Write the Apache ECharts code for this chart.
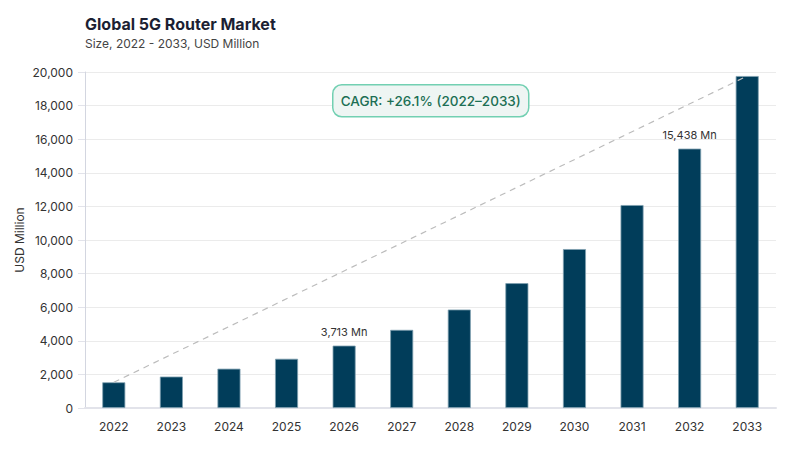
<!DOCTYPE html>
<html>
<head>
<meta charset="utf-8">
<script src="https://cdn.jsdelivr.net/npm/echarts@6/dist/echarts.min.js"></script>
<style>html,body{margin:0;padding:0;background:#fff}#c{width:800px;height:450px}</style>
</head>
<body>
<div id="c"></div>
<script>
var years = ['2022','2023','2024','2025','2026','2027','2028','2029','2030','2031','2032','2033'];
var marketSize = [1530, 1870, 2340, 2930, 3713, 4650, 5860, 7430, 9460, 12080, 15438, 19760];
var labeledYears = ['2026', '2032'];
var yTicks = [0, 2000, 4000, 6000, 8000, 10000, 12000, 14000, 16000, 18000, 20000];
var cagrText = 'CAGR: +26.1% (2022\u20132033)';
var trendData = marketSize.map(function (v, i) { return (i === 0 || i === marketSize.length - 1) ? v : null; });

var FONT = 'Inter';
var chart = echarts.init(document.getElementById('c'), null, { renderer: 'svg' });
chart.setOption({
  animation: false,
  textStyle: { fontFamily: FONT },
  title: {
    text: 'Global 5G Router Market',
    subtext: 'Size, 2022 - 2033, USD Million',
    left: 80, top: 11,
    itemGap: 5,
    textStyle: { fontFamily: FONT, fontSize: 16, fontWeight: 'bold', color: '#1c1f33' },
    subtextStyle: { fontFamily: FONT, fontSize: 12, color: '#444' }
  },
  grid: { left: 85, right: 24, top: 72, bottom: 42 },
  xAxis: {
    type: 'category',
    data: years,
    axisLine: { show: true, lineStyle: { color: '#e2e3ea', width: 2 } },
    axisTick: { show: false },
    axisLabel: { color: '#333', fontSize: 12, margin: 12, fontFamily: FONT }
  },
  yAxis: {
    type: 'value',
    min: 0, max: 20000, interval: 2000,
    name: 'USD Million',
    nameLocation: 'middle',
    nameGap: 60,
    nameMoveOverlap: false,
    nameTextStyle: { color: '#333', fontSize: 12, fontFamily: FONT },
    axisLine: { show: true, lineStyle: { color: '#d3d6e0' } },
    axisTick: { show: true, length: 7, lineStyle: { color: '#e2e3ea' } },
    axisLabel: {
      color: '#333', fontSize: 12, margin: 12, fontFamily: FONT,
      formatter: function (v) { return yTicks.indexOf(v) >= 0 ? v.toLocaleString('en-US') : ''; }
    },
    splitLine: { lineStyle: { color: '#ebebeb' } }
  },
  series: [
    {
      type: 'bar',
      data: marketSize.map(function (v, i) {
        var show = labeledYears.indexOf(years[i]) >= 0;
        return {
          value: v,
          label: {
            show: show, position: 'top', distance: 8,
            formatter: function (p) { return p.value.toLocaleString('en-US') + ' Mn'; },
            color: '#333', fontSize: 11, fontFamily: FONT
          }
        };
      }),
      barWidth: 23,
      itemStyle: { color: '#013d5a', borderColor: '#7f9fb0', borderWidth: 0.8 },
      z: 2
    },
    {
      type: 'line',
      data: trendData,
      connectNulls: true,
      symbol: 'none',
      lineStyle: { color: '#bcbcbc', width: 1.2, type: [6, 5] },
      z: 3,
      silent: true
    }
  ],
  graphic: [
    {
      type: 'group',
      left: 332, top: 84,
      z: 100,
      children: [
        {
          type: 'rect',
          z: 100,
          shape: { x: 0, y: 0, width: 196, height: 32, r: 9 },
          style: { fill: '#eef5f3', stroke: '#72d0b2', lineWidth: 1.5 }
        },
        {
          type: 'text',
          z: 101,
          style: {
            x: 98, y: 16, text: cagrText, align: 'center', verticalAlign: 'middle',
            fill: '#1c6f54', font: '500 13.5px Inter'
          }
        }
      ]
    }
  ]
});
</script>
</body>
</html>
